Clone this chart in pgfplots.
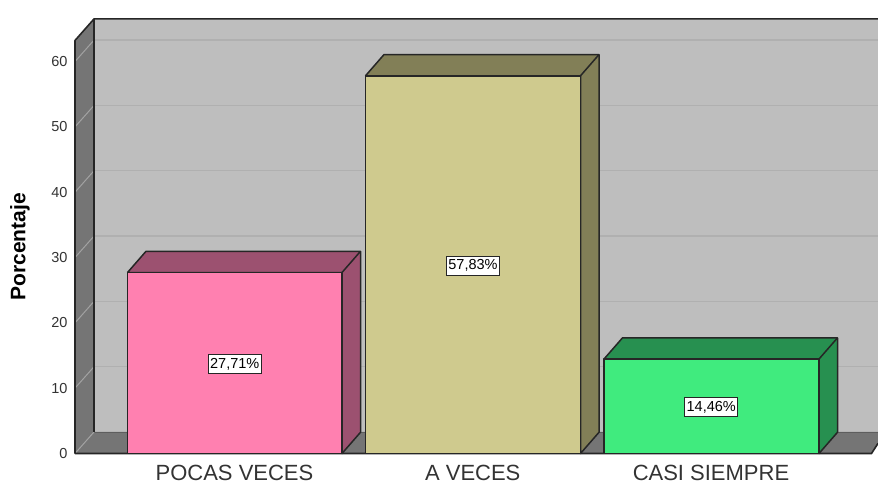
\documentclass[border=0pt]{standalone}
\usepackage{fontspec}
\setmainfont{Liberation Sans}
\usepackage{pgfplots}
\pgfplotsset{compat=1.18}
\definecolor{wallback}{HTML}{BEBEBE}
\definecolor{wallside}{HTML}{757575}
\definecolor{gridback}{HTML}{B0B0B0}
\definecolor{gridside}{HTML}{A2A2A2}
\definecolor{edge}{HTML}{262626}
\definecolor{pinkF}{HTML}{FF80B0}
\definecolor{pinkS}{HTML}{9C5170}
\definecolor{khakiF}{HTML}{CFCA8E}
\definecolor{khakiS}{HTML}{827F57}
\definecolor{greenF}{HTML}{40EB7E}
\definecolor{greenS}{HTML}{279050}
\definecolor{txt}{HTML}{333333}
\pgfplotsset{
  face/.style={draw=edge,line width=1.5pt,line join=round},
}
\begin{document}
\begin{tikzpicture}
\path[use as bounding box] (-75pt,-28.5pt) rectangle (803pt,453.5pt);
\begin{axis}[
  scale only axis,
  width=803pt, height=435pt,
  xmin=0.3305, xmax=3.701,
  ymin=0, ymax=66.6,
  clip=false,
  axis line style={draw=none},
  major tick length=0pt,
  tick pos=left,
  xtick={1,2,3},
  xticklabels={POCAS VECES, A VECES, CASI SIEMPRE},
  ytick={0,10,20,30,40,50,60},
  /pgf/number format/assume math mode=true,
  xticklabel style={font=\fontsize{22}{22}\selectfont,text=txt,anchor=center,yshift=-19.5pt,inner sep=0pt,text height=15pt,text depth=0pt},
  yticklabel style={font=\fontsize{14.5}{17}\selectfont,text=txt,anchor=east,xshift=-4pt},
  ylabel={Porcentaje},
  ylabel style={at={(axis description cs:-0.0685,0.475)},anchor=center,font=\fontsize{21}{25}\selectfont\bfseries},
]
% back wall
\addplot[fill=wallback,draw=none] coordinates {(0.4105,3.3) (3.701,3.3) (3.701,66.6) (0.4105,66.6)};
\addplot[gridback,line width=1.3pt,unbounded coords=jump] coordinates {
  (0.4105,13.3) (3.701,13.3) (3.701,nan)
  (0.4105,23.3) (3.701,23.3) (3.701,nan)
  (0.4105,33.3) (3.701,33.3) (3.701,nan)
  (0.4105,43.3) (3.701,43.3) (3.701,nan)
  (0.4105,53.3) (3.701,53.3) (3.701,nan)
  (0.4105,63.3) (3.701,63.3)
};
% floor
\addplot[fill=wallside,draw=none] coordinates {(0.3305,0) (0.4105,3.3) (3.701,3.3) (3.701,1.55) (3.6737,0)};
\addplot[color=wallside!80!black,line width=0.8pt] coordinates {(0.4105,3.3) (3.701,3.3)};
% left wall
\addplot[fill=wallside,draw=none] coordinates {(0.3305,0) (0.4105,3.3) (0.4105,66.54) (0.3305,63.24)};
\addplot[gridside,line width=1pt,unbounded coords=jump] coordinates {
  (0.3305,0) (0.4105,3.3) (0.4105,nan)
  (0.3305,10) (0.4105,13.3) (0.4105,nan)
  (0.3305,20) (0.4105,23.3) (0.4105,nan)
  (0.3305,30) (0.4105,33.3) (0.4105,nan)
  (0.3305,40) (0.4105,43.3) (0.4105,nan)
  (0.3305,50) (0.4105,53.3) (0.4105,nan)
  (0.3305,60) (0.4105,63.3)
};
% frame lines
\addplot[edge,line width=1.6pt,line join=round] coordinates {(0.3305,0) (0.3305,63.24) (0.4105,66.54) (3.701,66.54)};
\addplot[edge,line width=2pt] coordinates {(0.4105,3.3) (0.4105,66.54)};
\addplot[edge,line width=1.6pt] coordinates {(0.3305,0) (3.6737,0) (3.701,1.55)};
% bar 1
\addplot[face,fill=pinkS] coordinates {(0.5509,27.71) (0.6286,30.96) (1.5289,30.96) (1.5289,3.25) (1.4512,0) (1.4512,27.71) (0.5509,27.71)};
\addplot[face,fill=pinkF] coordinates {(0.5509,0) (1.4512,0) (1.4512,27.71) (0.5509,27.71) (0.5509,0)};
\addplot[face] coordinates {(1.4512,27.71) (1.5289,30.96)};
% bar 2
\addplot[face,fill=khakiS] coordinates {(1.5499,57.83) (1.6276,61.08) (2.5300,61.08) (2.5300,3.25) (2.4523,0) (2.4523,57.83) (1.5499,57.83)};
\addplot[face,fill=khakiF] coordinates {(1.5499,0) (2.4523,0) (2.4523,57.83) (1.5499,57.83) (1.5499,0)};
\addplot[face] coordinates {(2.4523,57.83) (2.5300,61.08)};
% bar 3
\addplot[face,fill=greenS] coordinates {(2.5509,14.46) (2.6286,17.71) (3.5310,17.71) (3.5310,3.25) (3.4533,0) (3.4533,14.46) (2.5509,14.46)};
\addplot[face,fill=greenF] coordinates {(2.5509,0) (3.4533,0) (3.4533,14.46) (2.5509,14.46) (2.5509,0)};
\addplot[face] coordinates {(3.4533,14.46) (3.5310,17.71)};
% value labels
\addplot[draw=none,nodes near coords,point meta=explicit symbolic,
  every node near coord/.style={anchor=center,fill=white,draw=edge,line width=1.3pt,
    inner xsep=2pt,inner ysep=3.5pt,text=black,font=\fontsize{14.5}{16}\selectfont}]
  coordinates {(1.0010,13.7)[{27,71\%}] (2.0010,28.75)[{57,83\%}] (3.0010,7.1)[{14,46\%}]};
\end{axis}
\end{tikzpicture}
\end{document}
